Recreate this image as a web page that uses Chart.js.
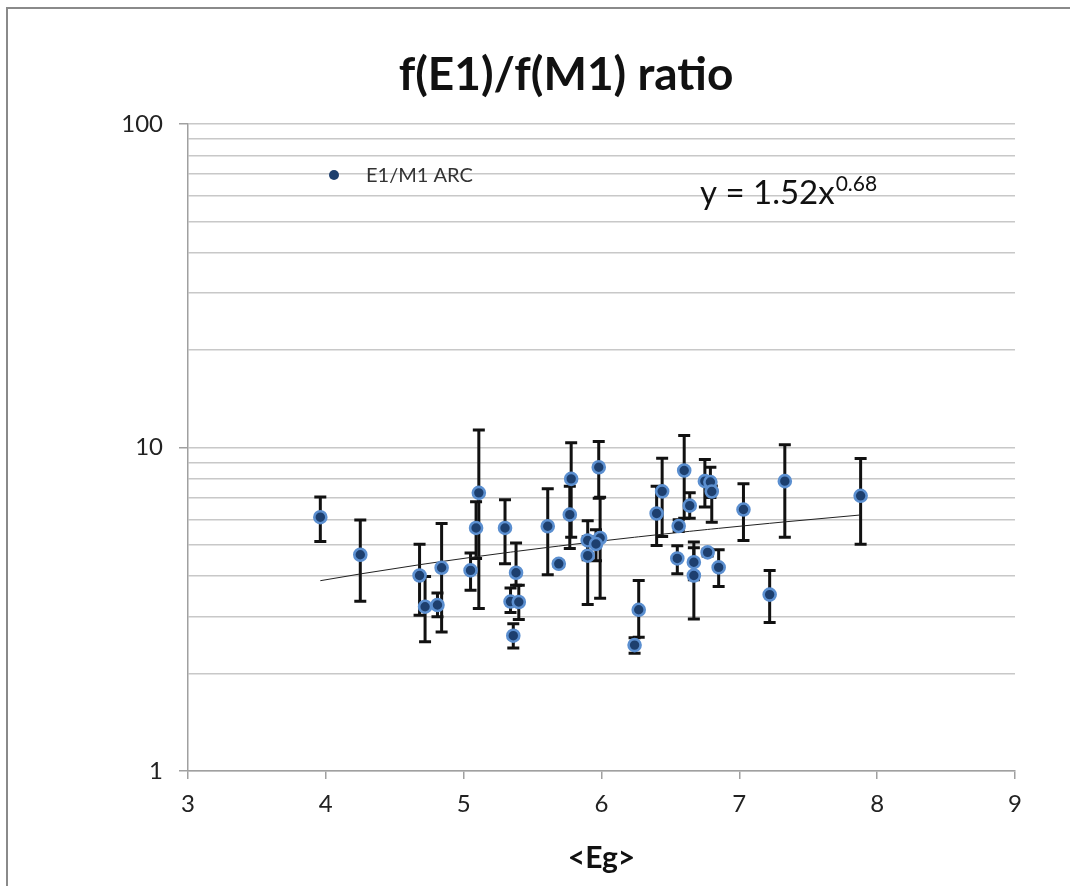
<!DOCTYPE html>
<html>
<head>
<meta charset="utf-8">
<title>f(E1)/f(M1) ratio</title>
<script src="https://cdn.jsdelivr.net/npm/chart.js@4.4.1/dist/chart.umd.min.js"></script>
<style>
  html, body { margin: 0; padding: 0; background: #fff; }
  canvas { display: block; }
</style>
</head>
<body>
<canvas id="ratioChart" width="1070" height="886"></canvas>
<script>
// mean gamma energy per nucleus
const egValues = [
  3.96, 4.25, 4.68, 4.72, 4.81, 4.84, 5.05, 5.09, 5.11, 5.30,
  5.34, 5.40, 5.38, 5.36, 5.61, 5.69, 5.77, 5.78, 5.90, 5.90,
  5.98, 5.99, 5.96, 6.27, 6.24, 6.40, 6.44, 6.60, 6.64, 6.56,
  6.55, 6.67, 6.67, 6.75, 6.79, 6.80, 6.77, 6.85, 7.03, 7.22,
  7.33, 7.88
];
// E1/M1 strength ratio
const ratioValues = [
  6.09, 4.66, 4.02, 3.22, 3.26, 4.25, 4.17, 5.64, 7.24, 5.64,
  3.34, 3.33, 4.10, 2.62, 5.71, 4.37, 6.20, 8.00, 5.16, 4.63,
  8.69, 5.25, 5.03, 3.15, 2.45, 6.25, 7.32, 8.49, 6.61, 5.72,
  4.54, 4.42, 4.02, 7.87, 7.82, 7.31, 4.74, 4.26, 6.43, 3.51,
  7.87, 7.09
];
// upper / lower ends of the error bars
const ratioHigh = [
  7.03, 5.97, 5.02, 3.99, 3.55, 5.82, 4.72, 6.80, 11.32, 6.90,
  3.68, 3.75, 5.07, 2.85, 7.45, 4.45, 7.59, 10.34, 5.94, 5.30,
  10.44, 7.02, 5.57, 3.88, 2.58, 7.59, 9.26, 10.89, 7.24, 5.98,
  4.97, 5.10, 4.90, 9.18, 8.69, 7.60, 4.85, 4.83, 7.72, 4.17,
  10.19, 9.25
];
const ratioLow = [
  5.12, 3.35, 3.03, 2.51, 3.00, 2.69, 3.62, 4.54, 3.18, 4.37,
  3.09, 2.94, 3.75, 2.40, 4.04, 4.29, 4.87, 5.28, 4.50, 3.27,
  6.97, 3.42, 4.47, 2.59, 2.31, 4.98, 5.31, 6.04, 6.04, 5.50,
  4.07, 3.90, 2.95, 6.55, 7.00, 5.87, 4.62, 3.72, 5.16, 2.88,
  5.28, 5.02
];

// power-law fit y = a * x^b
const trendCoef = 1.52;
const trendExp = 0.68;

const xTicks = [3, 4, 5, 6, 7, 8, 9];
const yTicks = [1, 2, 3, 4, 5, 6, 7, 8, 9, 10, 20, 30, 40, 50, 60, 70, 80, 90, 100];
const yLabels = [1, 10, 100];

const FONT = "Lato, 'Open Sans', 'DejaVu Sans', sans-serif";

const points = egValues.map((x, i) => ({ x: x, y: ratioValues[i] }));
const trendPoints = egValues.slice().sort((a, b) => a - b)
  .map(x => ({ x: x, y: trendCoef * Math.pow(x, trendExp) }));

// frame, title, legend and fit equation
const decorations = {
  id: 'decorations',
  beforeDraw(chart) {
    const ctx = chart.ctx;
    ctx.save();
    ctx.fillStyle = '#fff';
    ctx.fillRect(0, 0, chart.width, chart.height);
    ctx.strokeStyle = '#8a8a8a';
    ctx.lineWidth = 2;
    ctx.beginPath();
    ctx.moveTo(7, chart.height);
    ctx.lineTo(7, 8);
    ctx.lineTo(chart.width, 8);
    ctx.stroke();
    ctx.restore();
  },
  afterDraw(chart) {
    const ctx = chart.ctx;
    ctx.save();
    ctx.fillStyle = '#111';
    ctx.textAlign = 'center';
    ctx.textBaseline = 'middle';
    ctx.font = 'bold 46px ' + FONT;
    ctx.fillText('f(E1)/f(M1) ratio', 566, 75);

    // legend entry
    ctx.fillStyle = '#1d3f6e';
    ctx.beginPath();
    ctx.arc(334, 175, 5, 0, Math.PI * 2);
    ctx.fill();
    ctx.fillStyle = '#333';
    ctx.textAlign = 'left';
    ctx.font = '20px ' + FONT;
    ctx.fillText('E1/M1 ARC', 366, 176);

    // fit equation with superscript exponent
    ctx.fillStyle = '#111';
    ctx.textBaseline = 'alphabetic';
    ctx.font = '33px ' + FONT;
    const base = 'y = ' + trendCoef.toFixed(2) + 'x';
    ctx.fillText(base, 700, 204);
    const w = ctx.measureText(base).width;
    ctx.font = '21px ' + FONT;
    ctx.fillText(String(trendExp), 700 + w + 1, 191);
    ctx.restore();
  }
};

// vertical error bars with caps
const errorBars = {
  id: 'errorBars',
  beforeDatasetsDraw(chart) {
    const ctx = chart.ctx;
    const xs = chart.scales.x;
    const ys = chart.scales.y;
    ctx.save();
    ctx.strokeStyle = '#111';
    ctx.lineWidth = 3;
    egValues.forEach((x, i) => {
      const px = xs.getPixelForValue(x);
      const top = ys.getPixelForValue(ratioHigh[i]);
      const bot = ys.getPixelForValue(ratioLow[i]);
      ctx.beginPath();
      ctx.moveTo(px, top);
      ctx.lineTo(px, bot);
      ctx.moveTo(px - 6, top);
      ctx.lineTo(px + 6, top);
      ctx.moveTo(px - 6, bot);
      ctx.lineTo(px + 6, bot);
      ctx.stroke();
    });
    ctx.restore();
  }
};

new Chart(document.getElementById('ratioChart'), {
  type: 'scatter',
  data: {
    datasets: [
      {
        label: 'E1/M1 ARC',
        data: points,
        order: 1,
        pointRadius: 6,
        pointBackgroundColor: '#1d3f6e',
        pointBorderColor: '#5b8fd0',
        pointBorderWidth: 2.6
      },
      {
        label: 'Power (E1/M1 ARC)',
        type: 'line',
        data: trendPoints,
        order: 2,
        borderColor: '#222',
        borderWidth: 1,
        pointRadius: 0,
        fill: false,
        tension: 0
      }
    ]
  },
  options: {
    responsive: false,
    animation: false,
    layout: { padding: { top: 124, right: 55, bottom: 10, left: 0 } },
    plugins: {
      legend: { display: false },
      tooltip: { enabled: false },
      title: { display: false }
    },
    scales: {
      x: {
        type: 'linear',
        min: 3,
        max: 9,
        afterBuildTicks(scale) {
          scale.ticks = xTicks.map(v => ({ value: v }));
        },
        afterFit(scale) {
          scale.height = 105;
        },
        grid: {
          drawOnChartArea: false,
          drawTicks: true,
          tickLength: 8,
          tickColor: '#a0a0a0',
          lineWidth: 1.5
        },
        border: { color: '#a0a0a0', width: 1.5 },
        ticks: {
          color: '#222',
          padding: 11,
          font: { family: FONT, size: 24 }
        },
        title: {
          display: true,
          text: '<Eg>',
          color: '#111',
          padding: { top: 0, bottom: 0 },
          font: { family: FONT, size: 30, weight: 'bold' }
        }
      },
      y: {
        type: 'logarithmic',
        min: 1,
        max: 100,
        afterBuildTicks(scale) {
          scale.ticks = yTicks.map(v => ({ value: v }));
        },
        afterFit(scale) {
          scale.width = 188;
        },
        grid: {
          color: '#c8c8c8',
          lineWidth: 1.5,
          tickLength: 9,
          tickColor: ctx => yLabels.includes(ctx.tick && ctx.tick.value) ? '#a0a0a0' : 'rgba(0,0,0,0)'
        },
        border: { color: '#a0a0a0', width: 1.5 },
        ticks: {
          color: '#222',
          padding: 16,
          autoSkip: false,
          font: { family: FONT, size: 24 },
          callback: v => yLabels.includes(v) ? String(v) : ''
        }
      }
    }
  },
  plugins: [decorations, errorBars]
});
</script>
</body>
</html>
